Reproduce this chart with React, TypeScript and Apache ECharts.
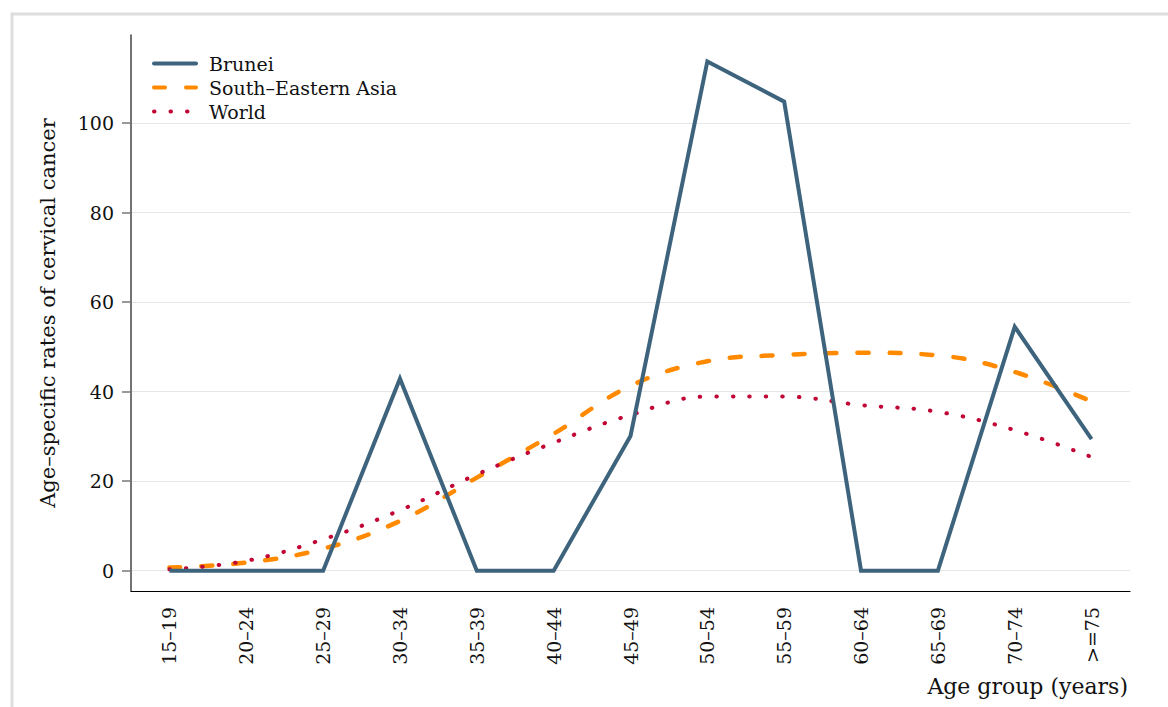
import React, { useEffect, useRef } from "react";
import * as echarts from "echarts";

const categories = ["15–19", "20–24", "25–29", "30–34", "35–39", "40–44", "45–49", "50–54", "55–59", "60–64", "65–69", "70–74", ">=75"];
const brunei = [0, 0, 0, 42.9, 0, 0, 30.1, 113.8, 104.8, 0, 0, 54.5, 29.4];
const seAsia = [0.7, 1.8, 4.9, 11.1, 20.8, 30.6, 41.3, 46.8, 48.2, 48.7, 48.1, 44.4, 37.8];
const world = [0.3, 2.2, 7.0, 13.5, 21.5, 28.6, 34.8, 38.9, 38.9, 37.0, 35.5, 31.4, 25.4];
const yTicks = [0, 20, 40, 60, 80, 100];

const FONT = "DejaVu Serif";

export default function App() {
  const ref = useRef<HTMLDivElement>(null);
  useEffect(() => {
    if (!ref.current) return;
    const chart = echarts.init(ref.current, undefined, { renderer: "svg" });
    chart.setOption({
      animation: false,
      backgroundColor: "#ffffff",
      textStyle: { fontFamily: FONT },
      graphic: [
        {
          type: "rect",
          left: 9.5,
          top: 11.5,
          shape: { width: 1300, height: 900 },
          style: { fill: "none", stroke: "#dedede", lineWidth: 3 },
          silent: true,
        },
      ],
      grid: { left: 131, right: 38, top: 35, bottom: 116, containLabel: false, outerBoundsMode: "none" },
      legend: {
        orient: "vertical",
        left: 147,
        top: 49,
        itemWidth: 42,
        itemHeight: 12,
        itemGap: 5,
        itemStyle: { opacity: 0 },
        lineStyle: { width: 4, cap: "round" },
        textStyle: { fontFamily: FONT, fontSize: 19, color: "#111", padding: [0, 0, 0, 8] },
        data: ["Brunei", "South–Eastern Asia", "World"],
      },
      xAxis: {
        type: "category",
        data: categories,
        boundaryGap: true,
        axisLine: { onZero: false, lineStyle: { color: "#000", width: 1.2 } },
        axisTick: { alignWithLabel: true, length: 9, lineStyle: { color: "#777", width: 1.5 } },
        axisLabel: { rotate: 90, margin: 16, fontFamily: FONT, fontSize: 19, color: "#111", interval: 0 },
        splitLine: { show: false },
        name: "Age group (years)",
        nameLocation: "end",
        nameGap: -2,
        nameTextStyle: { fontFamily: FONT, fontSize: 22, color: "#111", align: "right", verticalAlign: "top", padding: [84, 0, 0, 0] },
      },
      yAxis: {
        type: "value",
        min: -4.54,
        max: 119.7,
        axisLine: { show: true, lineStyle: { color: "#444", width: 1.5 } },
        axisTick: { show: true, length: 9, lineStyle: { color: "#777", width: 1.5 }, customValues: yTicks },
        axisLabel: { margin: 17, fontFamily: FONT, fontSize: 19, color: "#111", customValues: yTicks },
        splitLine: { show: true, lineStyle: { color: "#e6e6e6", width: 1 } },
        name: "Age–specific rates of cervical cancer",
        nameLocation: "middle",
        nameGap: 73,
        nameTextStyle: { fontFamily: FONT, fontSize: 21, color: "#111" },
      },
      series: [
        {
          name: "Brunei",
          type: "line",
          data: brunei,
          symbol: "none",
          lineStyle: { color: "#3E647D", width: 4, join: "miter" },
          itemStyle: { color: "#3E647D" },
          z: 3,
        },
        {
          name: "South–Eastern Asia",
          type: "line",
          data: seAsia,
          symbol: "none",
          smooth: 0.4,
          lineStyle: { color: "#FF8A00", width: 4.5, type: [11, 21], cap: "round" },
          itemStyle: { color: "#FF8A00" },
          z: 2,
        },
        {
          name: "World",
          type: "line",
          data: world,
          symbol: "none",
          smooth: 0.4,
          lineStyle: { color: "#C10534", width: 4, type: [0.5, 16], cap: "round" },
          itemStyle: { color: "#C10534" },
          z: 2,
        },
      ],
    });
    return () => chart.dispose();
  }, []);
  return <div ref={ref} style={{ position: "fixed", left: 0, top: 0, width: 1168, height: 707 }} />;
}
